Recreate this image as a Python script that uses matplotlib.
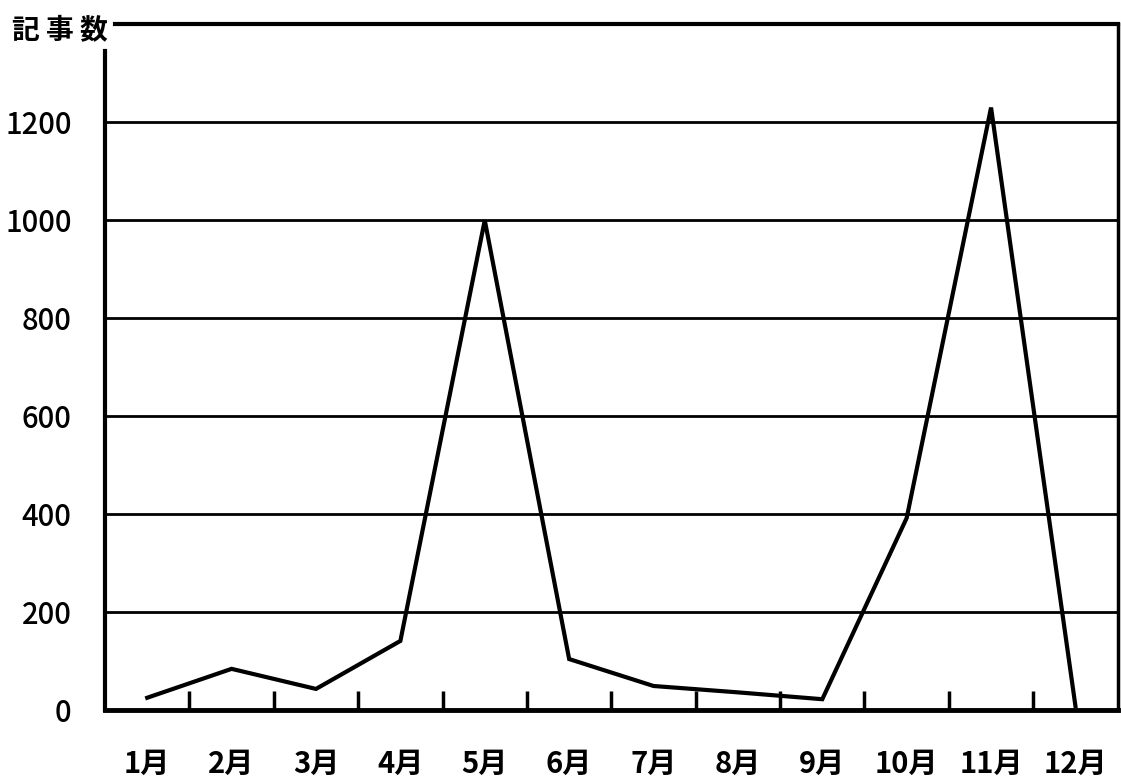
import numpy as np
import matplotlib.pyplot as plt

plt.rcParams['font.family'] = ['Noto Sans CJK JP', 'DejaVu Sans']

months = ["1月", "2月", "3月", "4月", "5月", "6月", "7月", "8月", "9月", "10月", "11月", "12月"]
articles = [25, 84, 43, 141, 1000, 104, 49, 36, 22, 392, 1230, 8]
yticks = [0, 200, 400, 600, 800, 1000, 1200]

fig = plt.figure(figsize=(11.21, 7.84), dpi=100)
ax = fig.add_axes([0.0937, 0.0944, 0.9033, 0.8746])

x = np.arange(len(months))
ax.plot(x, articles, color='black', lw=3, solid_joinstyle='miter', zorder=3)

ax.set_xlim(-0.5, len(months) - 0.5)
ax.set_ylim(0, 1400)

# horizontal grid
for v in yticks[1:]:
    ax.axhline(v, color='black', lw=2, zorder=1)

ax.set_yticks(yticks)
ax.set_yticklabels([str(v) for v in yticks], fontsize=21, fontweight='medium')
ax.tick_params(axis='y', length=0, pad=24)

ax.set_xticks(x)
ax.set_xticklabels(months, fontsize=21, fontweight='bold')
ax.tick_params(axis='x', which='major', length=0, pad=28)
ax.set_xticks(np.arange(0.5, len(months) - 1, 1), minor=True)
ax.tick_params(axis='x', which='minor', direction='in', length=14, width=2.5, color='black')

for s in ax.spines.values():
    s.set_color('black')
ax.spines['left'].set_linewidth(3)
ax.spines['bottom'].set_linewidth(3.5)
ax.spines['right'].set_linewidth(2.5)
ax.spines['top'].set_linewidth(3)
ax.spines['left'].set_bounds(0, 1345)
ax.spines['top'].set_bounds(-0.38, len(months) - 0.5)

fig.text(0.011, 0.96, "記 事 数", fontsize=20, fontweight='bold', va='center', ha='left')

plt.savefig("out.png", dpi=100)
